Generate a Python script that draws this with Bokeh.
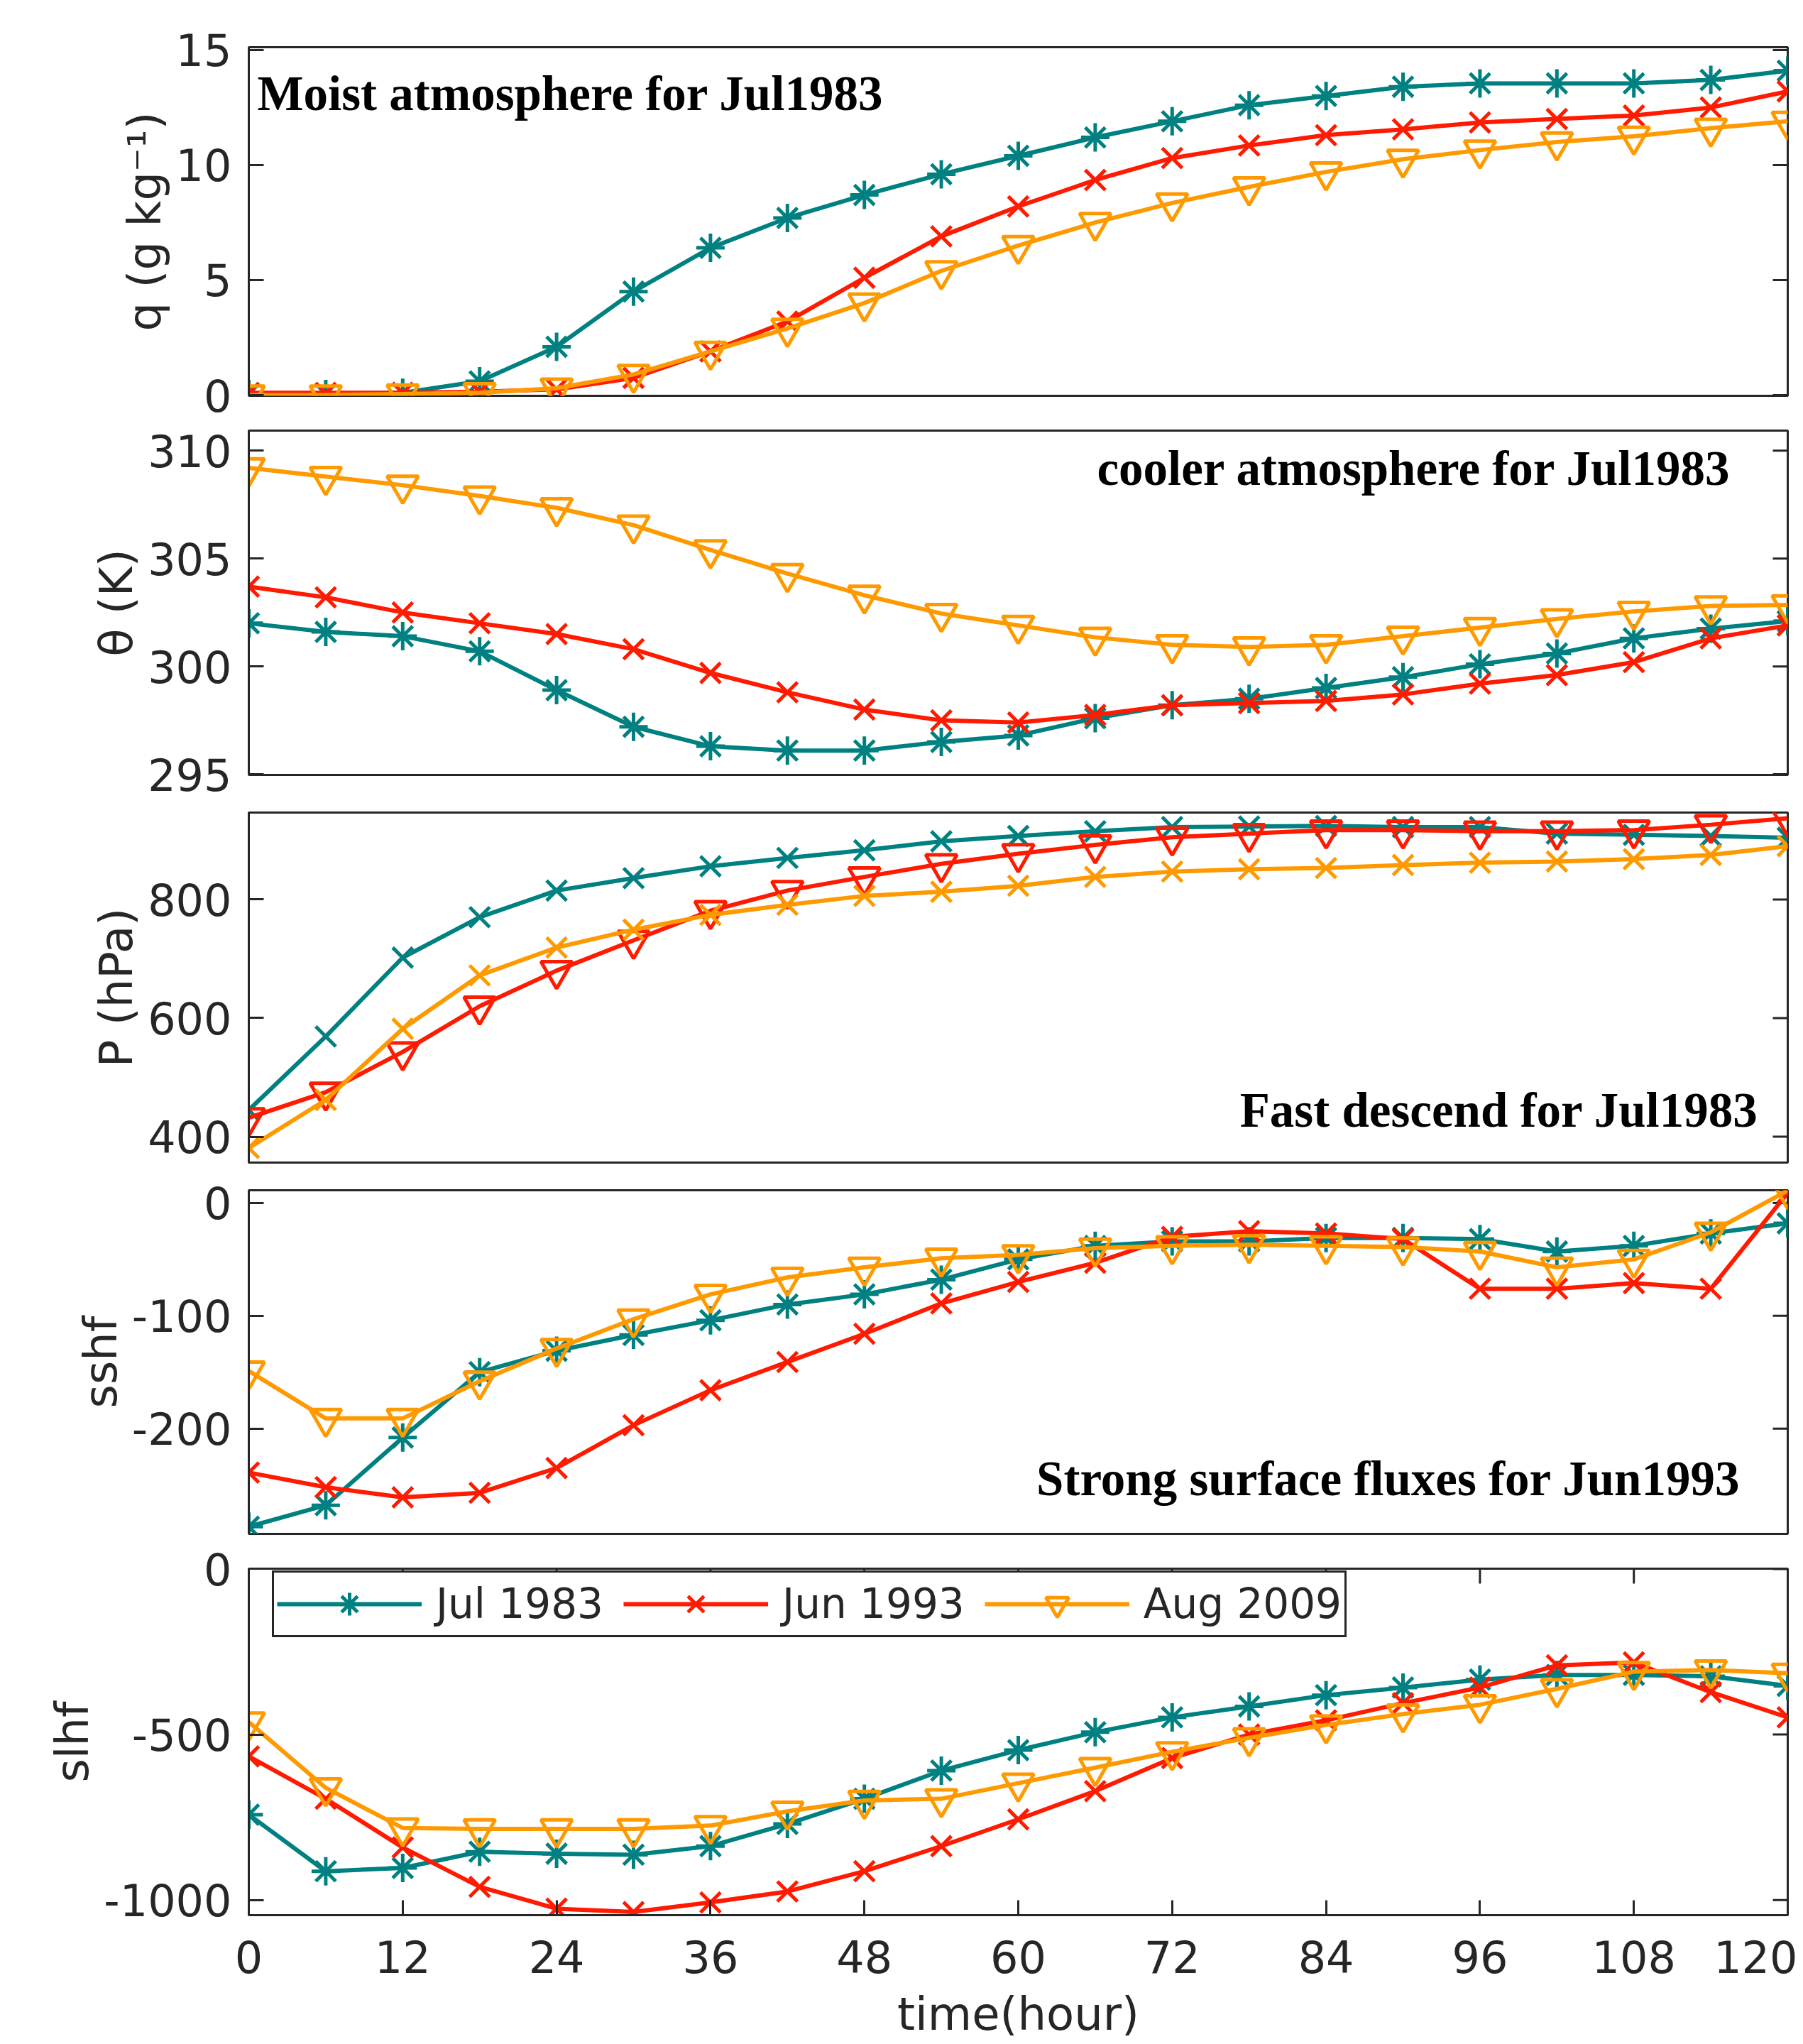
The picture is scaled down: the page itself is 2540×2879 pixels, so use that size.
import math
from bokeh.plotting import figure
from bokeh.layouts import column
from bokeh.models import Range1d, FixedTicker, Label, Legend, LegendItem
from bokeh.embed import file_html
from bokeh.resources import INLINE

hours = list(range(0, 121, 6))

series_names = ["Jul 1983", "Jun 1993", "Aug 2009"]
colors = ["#008080", "#ff1a00", "#ff9900"]

q_jul1983 = [0.05, 0.05, 0.1, 0.6, 2.1, 4.5, 6.4, 7.7, 8.7, 9.6, 10.4, 11.2, 11.9, 12.6, 13.0, 13.4, 13.55, 13.55, 13.55, 13.7, 14.1]
q_jun1993 = [0.1, 0.1, 0.1, 0.15, 0.25, 0.75, 1.9, 3.2, 5.1, 6.9, 8.2, 9.35, 10.3, 10.85, 11.3, 11.55, 11.85, 12.0, 12.15, 12.5, 13.2]
q_aug2009 = [0.0, 0.0, 0.05, 0.1, 0.3, 0.9, 1.9, 2.9, 4.0, 5.4, 6.5, 7.5, 8.35, 9.05, 9.7, 10.25, 10.65, 11.0, 11.25, 11.6, 11.9]

th_jul1983 = [302.0, 301.6, 301.4, 300.7, 298.9, 297.2, 296.3, 296.1, 296.1, 296.5, 296.8, 297.6, 298.2, 298.5, 299.0, 299.5, 300.1, 300.6, 301.3, 301.75, 302.1]
th_jun1993 = [303.7, 303.2, 302.5, 302.0, 301.5, 300.8, 299.7, 298.8, 298.0, 297.5, 297.4, 297.75, 298.2, 298.3, 298.4, 298.7, 299.2, 299.6, 300.2, 301.3, 301.9]
th_aug2009 = [309.2, 308.8, 308.4, 307.9, 307.35, 306.55, 305.4, 304.3, 303.3, 302.45, 301.9, 301.35, 301.0, 300.9, 301.0, 301.4, 301.8, 302.2, 302.55, 302.8, 302.85]

p_jul1983 = [445, 569, 702, 770, 815, 836, 856, 870, 883, 898, 907, 915, 922, 923, 924, 922, 922, 911, 909, 907, 904]
p_jun1993 = [432, 475, 543, 620, 680, 731, 781, 815, 838, 860, 877, 892, 905, 911, 917, 917, 915, 915, 917, 926, 937]
p_aug2009 = [381, 462, 582, 672, 719, 749, 774, 791, 806, 813, 823, 838, 847, 851, 853, 858, 862, 864, 868, 875, 890]

sshf_jul1983 = [-287, -268, -208, -150, -131, -117, -104, -90, -81, -68, -50, -38, -34, -34, -31, -31, -32, -43, -38, -27, -18]
sshf_jun1993 = [-239, -252, -261, -257, -235, -197, -166, -141, -116, -89, -70, -53, -30, -25, -27, -32, -76, -76, -71, -76, 9]
sshf_aug2009 = [-149, -191, -191, -158, -129, -103, -81, -66, -57, -49, -46, -40, -38, -37, -38, -39, -43, -57, -50, -26, 11]

slhf_jul1983 = [-742, -913, -903, -854, -860, -863, -837, -770, -694, -609, -547, -493, -448, -415, -381, -358, -334, -320, -320, -324, -353]
slhf_jun1993 = [-566, -694, -841, -960, -1026, -1036, -1007, -974, -913, -837, -756, -671, -571, -500, -457, -405, -358, -291, -282, -372, -448]
slhf_aug2009 = [-462, -661, -782, -785, -785, -785, -775, -732, -699, -694, -647, -600, -552, -510, -471, -438, -410, -362, -310, -305, -315]

x_ticks = [0, 12, 24, 36, 48, 60, 72, 84, 96, 108, 120]
x_tick_labels = ["0", "12", "24", "36", "48", "60", "72", "84", "96", "108", "120"]

panels = [
    dict(label="q (g kg\u207b\u00b9)", data=[q_jul1983, q_jun1993, q_aug2009], yr=(-0.03, 15.12),
         ticks=[0, 5, 10, 15], tlabels=["0", "5", "10", "15"],
         markers=["asterisk", "x", "inverted_triangle"],
         note="Moist atmosphere for Jul1983", nx=0.66, ny=13.09, nalign="left",
         bt=66, bb=39, fh=491),
    dict(label="\u03b8 (K)", data=[th_jul1983, th_jun1993, th_aug2009], yr=(294.97, 310.93),
         ticks=[295, 300, 305, 310], tlabels=["295", "300", "305", "310"],
         markers=["asterisk", "x", "inverted_triangle"],
         note="cooler atmosphere for Jul1983", nx=115.6, ny=309.18, nalign="right",
         bt=10, bb=45, fh=485),
    dict(label="P (hPa)", data=[p_jul1983, p_jun1993, p_aug2009], yr=(356.4, 946.5),
         ticks=[400, 600, 800], tlabels=["400", "600", "800"],
         markers=["x", "inverted_triangle", "x"],
         note="Fast descend for Jul1983", nx=117.7, ny=444.9, nalign="right",
         bt=8, bb=19, fh=493),
    dict(label="sshf", data=[sshf_jul1983, sshf_jun1993, sshf_aug2009], yr=(-293.4, 11.3),
         ticks=[-200, -100, 0], tlabels=["-200", "-100", "0"],
         markers=["asterisk", "x", "inverted_triangle"],
         note="Strong surface fluxes for Jun1993", nx=116.3, ny=-244.9, nalign="right",
         bt=20, bb=10, fh=484),
    dict(label="slhf", data=[slhf_jul1983, slhf_jun1993, slhf_aug2009], yr=(-1045.5, 1.0),
         ticks=[-1000, -500, 0], tlabels=["-1000", "-500", "0"],
         markers=["asterisk", "x", "inverted_triangle"],
         note=None, bt=39, bb=182, fh=488),
]

AX = "#262626"
TICK_FONT = "62px"
LABEL_FONT = "64px"
BL, BR = 350, 14
FW = 2168
TICK_LEN = 21


def style_axis(ax):
    ax.major_tick_in = TICK_LEN
    ax.major_tick_out = 0
    ax.minor_tick_in = 0
    ax.minor_tick_out = 0
    ax.major_tick_line_width = 3
    ax.major_tick_line_color = AX
    ax.axis_line_color = AX
    ax.axis_line_width = 3
    ax.major_label_text_font = "DejaVu Sans"
    ax.major_label_text_font_size = TICK_FONT
    ax.major_label_text_color = AX
    ax.axis_label_text_font = "DejaVu Sans"
    ax.axis_label_text_font_size = LABEL_FONT
    ax.axis_label_text_font_style = "normal"
    ax.axis_label_text_color = AX


figs = []
for i, pn in enumerate(panels):
    last = (i == len(panels) - 1)
    h = pn["bt"] + pn["fh"] + pn["bb"]
    y0, y1 = pn["yr"]
    p = figure(width=BL + FW + BR, height=h, output_backend="svg", toolbar_location=None,
               x_range=Range1d(0, 120), y_range=Range1d(y0, y1),
               x_axis_location="below" if last else None,
               min_border_left=BL, min_border_right=BR,
               min_border_top=pn["bt"], min_border_bottom=pn["bb"])
    p.grid.visible = False
    p.outline_line_color = AX
    p.outline_line_width = 3
    p.outline_line_alpha = 1.0
    p.background_fill_color = "white"
    p.border_fill_color = "white"

    ya = p.yaxis[0]
    ya.ticker = FixedTicker(ticks=pn["ticks"])
    ya.major_label_overrides = dict(zip(pn["ticks"], pn["tlabels"]))
    ya.axis_label = pn["label"]
    style_axis(ya)
    ya.major_label_standoff = 24
    ya.axis_label_standoff = 4

    # right-side inward ticks (mirror of the left ticks)
    p.ray(x=[120] * len(pn["ticks"]), y=pn["ticks"], length=TICK_LEN, length_units="screen",
          angle=math.pi, line_color=AX, line_width=3)

    if last:
        xa = p.xaxis[0]
        xa.ticker = FixedTicker(ticks=x_ticks)
        xa.major_label_overrides = dict(zip(x_ticks, x_tick_labels))
        xa.axis_label = "time(hour)"
        style_axis(xa)
        xa.major_label_standoff = 35
        xa.axis_label_standoff = 18
        # top inward ticks
        p.ray(x=x_ticks, y=[y1] * len(x_ticks), length=TICK_LEN, length_units="screen",
              angle=-math.pi / 2, line_color=AX, line_width=3)

    items = []
    for vals, col, mk, name in zip(pn["data"], colors, pn["markers"], series_names):
        lr = p.line(hours, vals, line_color=col, line_width=6)
        msize = 40 if mk == "asterisk" else (44 if mk == "inverted_triangle" else 40)
        sr = p.scatter(hours, vals, marker=mk, size=msize, line_color=col, line_width=5,
                       fill_color=None)
        items.append(LegendItem(label=name, renderers=[lr, sr]))

    if pn["note"]:
        p.add_layout(Label(x=pn["nx"], y=pn["ny"], text=pn["note"], text_align=pn["nalign"],
                           text_baseline="alphabetic", text_font="Liberation Serif",
                           text_font_style="bold", text_font_size="69px", text_color="black"))

    if last:
        leg = Legend(items=items, orientation="horizontal", location=(33, 391),
                     glyph_width=204, glyph_height=80, label_standoff=20, spacing=28,
                     padding=4, margin=0,
                     label_text_font="DejaVu Sans", label_text_font_size="58px",
                     label_text_color=AX,
                     border_line_color=AX, border_line_width=3, border_line_alpha=1.0,
                     background_fill_color="white", background_fill_alpha=1.0)
        p.add_layout(leg, "center")

    figs.append(p)

layout = column(*figs)
open("out.html", "w").write(file_html(layout, INLINE))
